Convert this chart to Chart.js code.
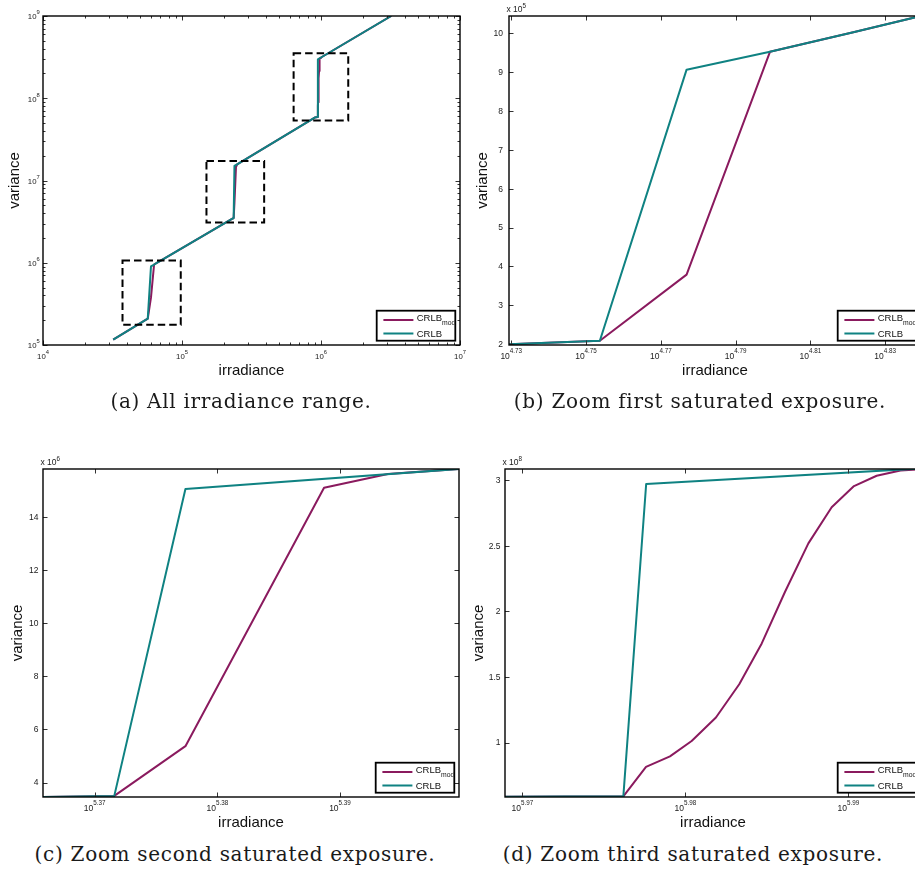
<!DOCTYPE html>
<html><head><meta charset="utf-8">
<script src="https://cdn.jsdelivr.net/npm/chart.js@4.4.0/dist/chart.umd.min.js"></script>
<style>
html,body{margin:0;padding:0;background:#fff;overflow:hidden;}
#page{position:relative;width:915px;height:876px;overflow:hidden;background:#fff;}
canvas{position:absolute;}
.cap{position:absolute;width:440px;font-family:"DejaVu Serif",serif;font-size:20px;line-height:20px;letter-spacing:0.7px;white-space:nowrap;text-align:center;color:#1a1a1a;}
</style></head><body>
<div id="page">
<canvas id="pa" width="470" height="390" style="left:0px;top:0px"></canvas>
<canvas id="pb" width="465" height="390" style="left:470px;top:0px"></canvas>
<canvas id="pc" width="470" height="400" style="left:0px;top:440px"></canvas>
<canvas id="pd" width="465" height="400" style="left:470px;top:440px"></canvas>
<div class="cap" style="left:21px;top:391px">(a) All irradiance range.</div>
<div class="cap" style="left:480px;top:391px">(b) Zoom first saturated exposure.</div>
<div class="cap" style="left:15px;top:844px">(c) Zoom second saturated exposure.</div>
<div class="cap" style="left:473px;top:844px">(d) Zoom third saturated exposure.</div>
</div>
<script>
// ---------------- data ----------------
const legendLabels = [['CRLB', 'mod'], ['CRLB', '']];
const xTitle = 'irradiance';
const yTitle = 'variance';

// CRLB : irradiance given as log10 exponents, variance as values
const crlbLog10Irr = [4.505, 4.7537, 4.7769, 4.7992, 4.8215, 4.8438, 5.3567, 5.3716, 5.3774, 5.3997, 5.955, 5.9762, 5.9776, 5.9999, 6.505];
const crlbVariance = [1.16e5, 2.09e5, 9.06e5, 9.52e5, 10.02e5, 10.54e5, 3.40e6, 3.50e6, 15.04e6, 15.80e6, 0.582e8, 0.590e8, 2.972e8, 3.129e8, 1.0e9];

// CRLB_mod
const modLog10Irr = [4.505, 4.7537, 4.7769, 4.7992, 4.8215, 4.8438, 5.3567, 5.3716, 5.3774, 5.3887, 5.3939, 5.3997, 5.955, 5.9762, 5.97759, 5.97906, 5.98039, 5.98188, 5.98331, 5.98469, 5.98612, 5.98755, 5.98898, 5.99035, 5.99174, 5.9932, 5.9999, 6.505];
const modVariance = [1.16e5, 2.09e5, 3.79e5, 9.52e5, 10.02e5, 10.54e5, 3.40e6, 3.50e6, 5.37e6, 15.09e6, 15.61e6, 15.80e6, 0.582e8, 0.590e8, 0.814e8, 0.895e8, 1.012e8, 1.191e8, 1.445e8, 1.756e8, 2.15e8, 2.519e8, 2.794e8, 2.956e8, 3.035e8, 3.075e8, 3.129e8, 1.0e9];

// axis ranges (x as log10 exponents)
const aXRangeLog = [4, 7];           const aYRangeLog = [5, 9];
const bXRangeLog = [4.7294, 4.8396]; const bYRange = [1.98e5, 10.44e5];
const cXRangeLog = [5.36579, 5.3997]; const cYRange = [3.458e6, 15.796e6];
const dXRangeLog = [5.96894, 5.99446]; const dYRange = [0.5847e8, 3.0863e8];

// ticks
const aXTickExp = ['4', '5', '6', '7'];
const aYTickExp = ['5', '6', '7', '8', '9'];
const logMinorMult = [2, 3, 4, 5, 6, 7, 8, 9];
const bXTickExp = ['4.73', '4.75', '4.77', '4.79', '4.81', '4.83'];
const bYTicks = ['2', '3', '4', '5', '6', '7', '8', '9', '10']; const bYMultExp = '5';
const cXTickExp = ['5.37', '5.38', '5.39'];
const cYTicks = ['4', '6', '8', '10', '12', '14']; const cYMultExp = '6';
const dXTickExp = ['5.97', '5.98', '5.99'];
const dYTicks = ['1', '1.5', '2', '2.5', '3']; const dYMultExp = '8';

// dashed zoom boxes on panel (a): [xMinExp, xMaxExp, yMinExp, yMaxExp]
const zoomBoxesLog = [[4.572, 4.991, 5.247, 6.028], [5.176, 5.591, 6.489, 7.2385], [5.803, 6.196, 7.728, 8.547]];

// ---------------- styling ----------------
const MOD_COLOR = '#8a1a5e';
const CRLB_COLOR = '#0f8282';
const SANS = '"Liberation Sans", Arial, sans-serif';

function pts(lx, vy) { return lx.map((e, i) => ({ x: Math.pow(10, e), y: vy[i] })); }

function powLabel(ctx, base, exp, x, baseY, fs, es, rise, align) {
  ctx.font = fs + 'px ' + SANS; const wb = ctx.measureText(base).width;
  ctx.font = es + 'px ' + SANS; const we = ctx.measureText(exp).width;
  let left = align === 'center' ? x - (wb + we) / 2 : (align === 'right' ? x - wb - we : x);
  ctx.textAlign = 'left'; ctx.textBaseline = 'alphabetic';
  ctx.font = fs + 'px ' + SANS; ctx.fillText(base, left, baseY);
  ctx.font = es + 'px ' + SANS; ctx.fillText(exp, left + wb, baseY - rise);
}

function deco(cfg) {
  return {
    id: 'deco',
    afterDatasetsDraw(chart) {
      const ctx = chart.ctx, ca = chart.chartArea, xs = chart.scales.x, ys = chart.scales.y;
      ctx.save();
      // dashed zoom boxes
      if (cfg.boxes) {
        ctx.strokeStyle = '#000'; ctx.lineWidth = 2; ctx.setLineDash([7.5, 4]);
        cfg.boxes.forEach(b => {
          const x1 = xs.getPixelForValue(Math.pow(10, b[0])), x2 = xs.getPixelForValue(Math.pow(10, b[1]));
          const y1 = ys.getPixelForValue(Math.pow(10, b[3])), y2 = ys.getPixelForValue(Math.pow(10, b[2]));
          ctx.strokeRect(x1, y1, x2 - x1, y2 - y1);
        });
        ctx.setLineDash([]);
      }
      // inward ticks on all four sides
      ctx.strokeStyle = '#333'; ctx.lineWidth = 1;
      const seg = (x1, y1, x2, y2) => { ctx.beginPath(); ctx.moveTo(x1, y1); ctx.lineTo(x2, y2); ctx.stroke(); };
      cfg.xTicks.forEach(t => {
        const px = Math.round(xs.getPixelForValue(t.v)) + 0.5, L = t.minor ? 2.5 : 4.5;
        seg(px, ca.bottom, px, ca.bottom - L); seg(px, ca.top, px, ca.top + L);
      });
      cfg.yTicks.forEach(t => {
        const py = Math.round(ys.getPixelForValue(t.v)) + 0.5, L = t.minor ? 2.5 : 4.5;
        seg(ca.left, py, ca.left + L, py); seg(ca.right, py, ca.right - L, py);
      });
      // axes box
      ctx.strokeStyle = '#000'; ctx.lineWidth = 1.4;
      ctx.strokeRect(ca.left, ca.top, ca.right - ca.left, ca.bottom - ca.top);
      // tick labels
      ctx.fillStyle = '#1a1a1a';
      cfg.xTicks.forEach(t => {
        if (t.label == null) return;
        powLabel(ctx, '10', t.label, xs.getPixelForValue(t.v), ca.bottom + 14.3, cfg.fs, cfg.es, cfg.rise, 'center');
      });
      cfg.yTicks.forEach(t => {
        if (t.label == null) return;
        const py = ys.getPixelForValue(t.v);
        if (cfg.yPow) {
          powLabel(ctx, '10', t.label, ca.left - cfg.yGap, py + 3.3, cfg.fs, cfg.es, cfg.rise, 'right');
        } else {
          ctx.font = cfg.fs + 'px ' + SANS; ctx.textAlign = 'right'; ctx.textBaseline = 'middle';
          ctx.fillText(t.label, ca.left - cfg.yGap, py + 0.5);
        }
      });
      // multiplier
      if (cfg.mult) powLabel(ctx, 'x 10', cfg.mult, ca.left - 2.5, ca.top - 3.6, cfg.fs, cfg.es, 4.5, 'left');
      // axis titles
      ctx.fillStyle = '#111';
      ctx.font = '15px ' + SANS; ctx.textAlign = 'center'; ctx.textBaseline = 'alphabetic';
      ctx.fillText(xTitle, (ca.left + ca.right) / 2, ca.bottom + 29.7);
      ctx.save(); ctx.translate(ca.left - cfg.yTitleOff, (ca.top + ca.bottom) / 2); ctx.rotate(-Math.PI / 2);
      ctx.fillText(yTitle, 0, 0); ctx.restore();
      // legend box
      const bw = 78.6, bh = 30, bx = ca.right - 4.7 - bw, by = ca.bottom - 4.3 - bh;
      ctx.fillStyle = '#fff'; ctx.fillRect(bx, by, bw, bh);
      ctx.save(); ctx.beginPath(); ctx.rect(bx, by, bw - 1, bh); ctx.clip();
      const rows = [{ c: MOD_COLOR, ly: by + 9.3, tb: by + 10.2 }, { c: CRLB_COLOR, ly: by + 22.7, tb: by + 26.2 }];
      rows.forEach((r, i) => {
        ctx.strokeStyle = r.c; ctx.lineWidth = 2;
        seg(bx + 6.7, r.ly, bx + 36.7, r.ly);
        ctx.fillStyle = '#111'; ctx.textAlign = 'left'; ctx.textBaseline = 'alphabetic';
        ctx.font = '9.5px ' + SANS; ctx.fillText(legendLabels[i][0], bx + 40, r.tb);
        const w = ctx.measureText(legendLabels[i][0]).width;
        if (legendLabels[i][1]) { ctx.font = '6.8px ' + SANS; ctx.fillText(legendLabels[i][1], bx + 40 + w, r.tb + 4.3); }
      });
      ctx.restore();
      ctx.strokeStyle = '#000'; ctx.lineWidth = 1.8; ctx.strokeRect(bx, by, bw, bh);
      ctx.restore();
    }
  };
}

function makeChart(id, xLog, yScale, padding, cfg) {
  const datasets = [
    { label: 'CRLB', data: pts(crlbLog10Irr, crlbVariance), borderColor: CRLB_COLOR, order: 1 },
    { label: 'CRLB_mod', data: pts(modLog10Irr, modVariance), borderColor: MOD_COLOR, order: 2 }
  ].map(d => Object.assign(d, { borderWidth: 2, pointRadius: 0, tension: 0, fill: false, borderJoinStyle: 'round' }));
  return new Chart(document.getElementById(id), {
    type: 'line',
    data: { datasets },
    options: {
      responsive: false, animation: false, devicePixelRatio: 1, events: [],
      layout: { padding },
      plugins: { legend: { display: false }, tooltip: { enabled: false } },
      scales: {
        x: { type: 'logarithmic', display: false, bounds: 'data', min: Math.pow(10, xLog[0]), max: Math.pow(10, xLog[1]) },
        y: Object.assign({ display: false, bounds: 'data' }, yScale)
      }
    },
    plugins: [deco(cfg)]
  });
}

// panel (a): log-log with minor ticks
const aXT = [], aYT = [];
aXTickExp.forEach((e, i) => {
  aXT.push({ v: Math.pow(10, +e), label: e });
  if (i < aXTickExp.length - 1) logMinorMult.forEach(m => aXT.push({ v: m * Math.pow(10, +e), minor: true }));
});
aYTickExp.forEach((e, i) => {
  aYT.push({ v: Math.pow(10, +e), label: e });
  if (i < aYTickExp.length - 1) logMinorMult.forEach(m => aYT.push({ v: m * Math.pow(10, +e), minor: true }));
});
makeChart('pa', aXRangeLog, { type: 'logarithmic', min: Math.pow(10, aYRangeLog[0]), max: Math.pow(10, aYRangeLog[1]) },
  { left: 43, top: 16, right: 10, bottom: 45 },
  { xTicks: aXT, yTicks: aYT, yPow: true, fs: 7.8, es: 5.8, rise: 5, yGap: 3.3, yTitleOff: 23.8, boxes: zoomBoxesLog });

function linPanel(id, xLog, xExp, yR, yT, multExp, padding, yGap, yTitleOff) {
  const xt = xExp.map(e => ({ v: Math.pow(10, +e), label: e }));
  const s = Math.pow(10, +multExp);
  const yt = yT.map(l => ({ v: +l * s, label: l }));
  makeChart(id, xLog, { type: 'linear', min: yR[0], max: yR[1] }, padding,
    { xTicks: xt, yTicks: yt, yPow: false, fs: 8.5, es: 6.3, rise: 6.5, yGap, yTitleOff, mult: multExp });
}
linPanel('pb', bXRangeLog, bXTickExp, bYRange, bYTicks, bYMultExp, { left: 39, top: 16, right: 14, bottom: 45 }, 6, 21.8);
linPanel('pc', cXRangeLog, cXTickExp, cYRange, cYTicks, cYMultExp, { left: 43, top: 29, right: 11, bottom: 43 }, 4.5, 20.8);
linPanel('pd', dXRangeLog, dXTickExp, dYRange, dYTicks, dYMultExp, { left: 35, top: 29, right: 14, bottom: 43 }, 4.5, 22.5);
</script>
</body></html>
